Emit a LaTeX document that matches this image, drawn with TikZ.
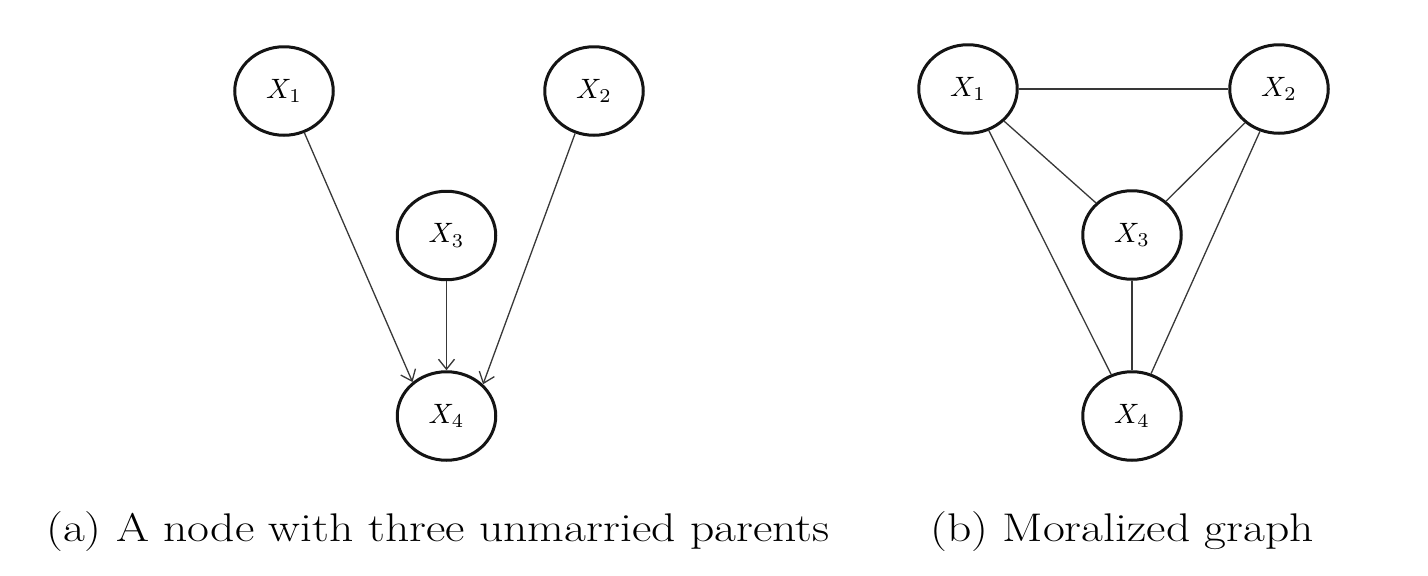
\documentclass[tikz,border=0pt]{standalone}
\usetikzlibrary{shapes.geometric,arrows.meta}
\newcommand{\rvlab}[1]{\scalebox{2.8}{$X_{#1}$}}
\begin{document}
\begin{tikzpicture}[x=1pt,y=-1pt,
  rv/.style={ellipse,draw=black!92,line width=3pt,minimum width=98.5pt,minimum height=88.5pt,inner sep=0pt},
  edge/.style={draw=black!78,line width=1.3pt},
  arr/.style={edge,-{Straight Barb[length=10pt,width=16pt]}},
  captext/.style={anchor=base west,inner sep=0pt,xscale=1.19,font=\fontsize{40}{48}\selectfont}]
\useasboundingbox[fill=white] (0,0) rectangle (1428,576);
% (a)
\node[rv] (a1) at (284,91) {\rvlab{1}};
\node[rv] (a2) at (594,91) {\rvlab{2}};
\node[rv] (a3) at (446.5,235.5) {\rvlab{3}};
\node[rv] (a4) at (446.5,416) {\rvlab{4}};
\draw[arr] (a1.-64) -- (a4.135);
\draw[arr] (a2.-114.5) -- (a4.41.7);
\draw[arr] (a3.south) -- (a4.north);
% (b)
\node[rv] (b1) at (968,89) {\rvlab{1}};
\node[rv] (b2) at (1279,89) {\rvlab{2}};
\node[rv] (b3) at (1132,235) {\rvlab{3}};
\node[rv] (b4) at (1132,416) {\rvlab{4}};
\draw[edge] (b1) -- (b2);
\draw[edge] (b1) -- (b3);
\draw[edge] (b2) -- (b3);
\draw[edge] (b1) -- (b4);
\draw[edge] (b2) -- (b4);
\draw[edge] (b3) -- (b4);
% captions
\node[captext] (capa) at (46,541) {(a) A node with three unmarried parents};
\node[captext] (capb) at (930,541) {(b) Moralized graph};
\end{tikzpicture}
\end{document}
